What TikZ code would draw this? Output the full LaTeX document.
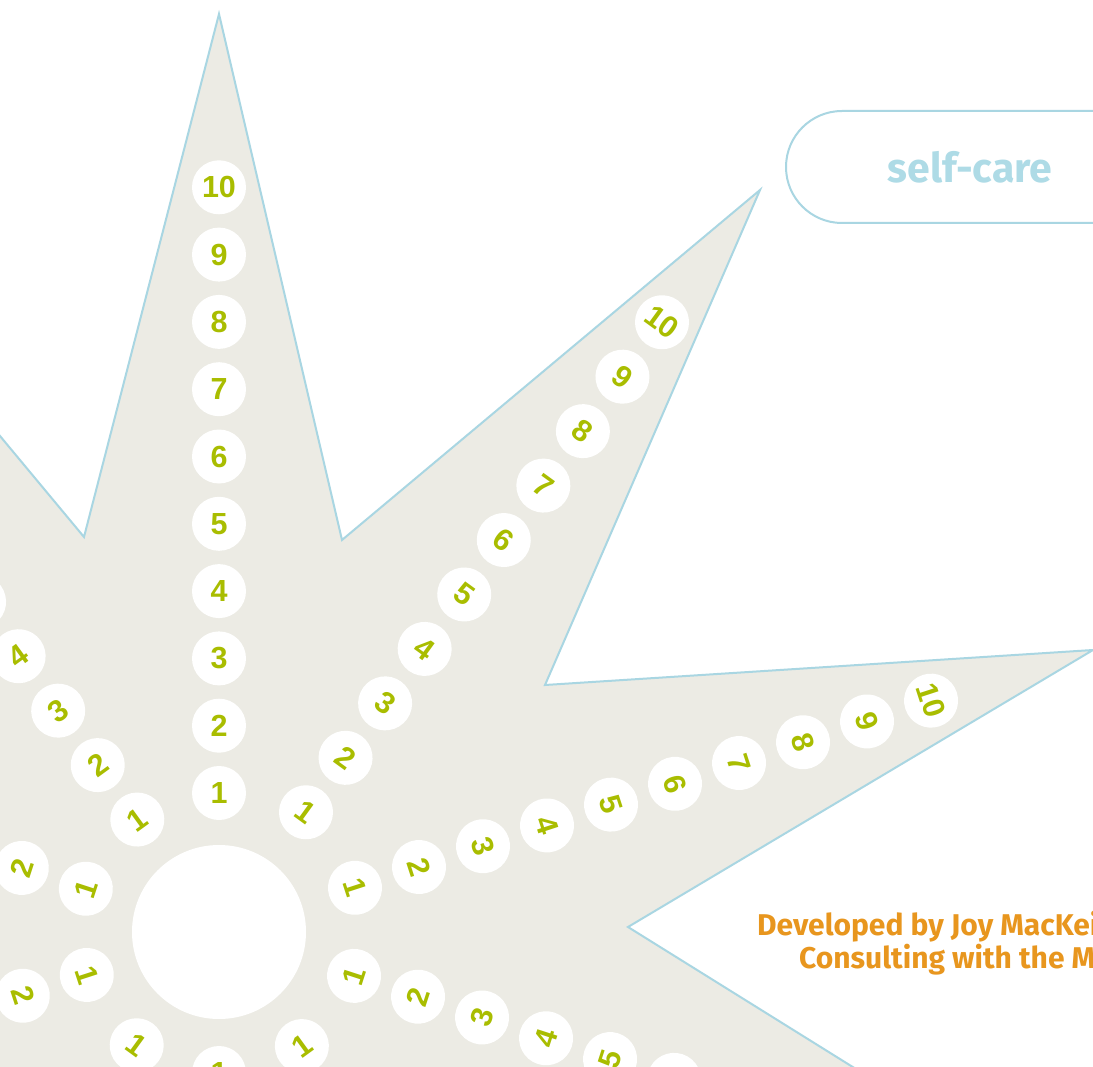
\documentclass[tikz,border=0pt]{standalone}
\usepackage{fontspec}
\setmainfont{Fira Sans}
\newfontfamily\numfont{Liberation Sans}
\usetikzlibrary{calc}
\definecolor{starfill}{HTML}{ECEBE4}
\definecolor{outline}{HTML}{A9D6E2}
\definecolor{numgreen}{HTML}{A9BD00}
\definecolor{devorange}{HTML}{E8961E}
\definecolor{labelblue}{HTML}{AEDBE6}
\tikzset{
  starshape/.style={fill=starfill, draw=outline, line width=2pt, line join=miter},
  numc/.style={circle, fill=white, minimum size=54pt, inner sep=0pt, text=numgreen,
    font=\numfont\bfseries\fontsize{30.5}{30.5}\selectfont},
  hub/.style={circle, fill=white, minimum size=174pt, inner sep=0pt},
  labelbox/.style={draw=outline, line width=2pt, rounded corners=56pt, minimum width=620pt, minimum height=112pt, inner sep=0pt, fill=white},
  labeltext/.style={text=labelblue, font=\bfseries\fontsize{41}{41}\selectfont, inner sep=0pt},
  devtext/.style={text=devorange, font=\bfseries\fontsize{30}{30}\selectfont, inner sep=0pt, anchor=base west}
}
\begin{document}
\begin{tikzpicture}[x=1pt,y=-1pt]
\useasboundingbox (0,0) rectangle (1093,1067);
\clip (0,0) rectangle (1093,1067);
\fill[white] (0,0) rectangle (1093,1067);
% star
\draw[starshape] (84,537) -- (219,14) -- (342,540) -- (760,190) -- (545,685)
  -- (1093,650) -- (628,927) -- (1092,1216) -- (551,1173) -- (759,1675)
  -- (346,1322) -- (219,1850) -- (92,1322) -- (-321,1675) -- (-113,1173)
  -- (-654,1216) -- (-191,932) -- (-654,648) -- (-113,691) -- (-168,234) -- cycle;
% hub
\node[hub] (c) at (219,932) {};
% numbers
\foreach \a/\r/\rot [count=\i] in {90/139/0, 54/148/-36, 18/143/-72, -18/142/72, -54/141/36, -90/141/0, -126/140/-36, -162/139/-72, 162/140/72, 126/139/36}{
  \foreach \k in {1,...,10}{
    \node[numc, rotate=\rot] (n\i-\k) at ($(c)+(-\a:{\r+67.3*(\k-1)})$) {\k};
  }
}
% label box
\node[labelbox, anchor=west] (box) at (785,167) {};
\node[labeltext] (lbl) at (970,167) {self-care};
% credit text
\node[devtext] (dev1) at (757,935) {Developed by Joy MacKeith and Sara Burns of Triangle};
\node[devtext] (dev2) at (799,968) {Consulting with the Mental Health Providers Forum};
\end{tikzpicture}
\end{document}
